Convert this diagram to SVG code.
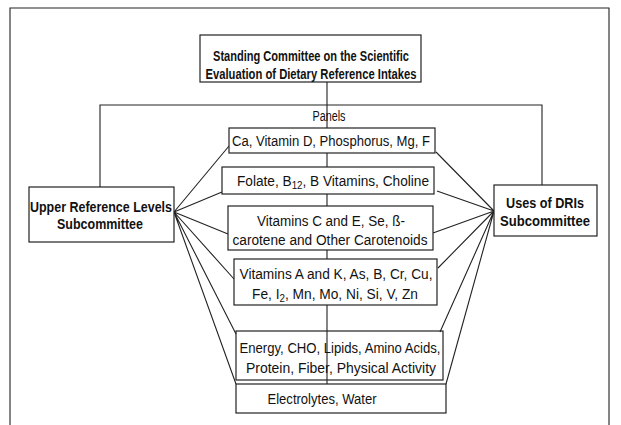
<svg xmlns="http://www.w3.org/2000/svg" width="621" height="425" viewBox="0 0 621 425">
<style>
.box{fill:#fff;stroke:#222;stroke-width:1.2}
.ln{fill:none;stroke:#222;stroke-width:1.1}
text{font-family:"Liberation Sans Narrow","Liberation Sans",Arial,sans-serif;font-size:14px;fill:#111;text-anchor:middle}
.b{font-weight:bold;font-size:15px}
</style>
<rect width="621" height="425" fill="#fff"/>
<g id="frame"><path class="ln" d="M10,425 V8 H609 V425"/></g>
<g id="connectors">
<path class="ln" d="M327,82 V128 M327,153 V167 M327,194 V206 M327,250 V259 M327,305 V384"/>
<path class="ln" d="M100,187 V105 H542 V185"/>
<path class="ln" d="M174,212 L229,146 M174,212 L222,192 M174,212 L228,234 M174,212 L234,279 M174,212 L236,334 M174,212 L236,384"/>
<path class="ln" d="M494,211 L436,152 M494,211 L437,191 M494,211 L433,233 M494,211 L438,268 M494,211 L440,332 M494,211 L446,384"/>
</g>
<g id="top">
<rect class="box" x="200" y="35" width="221" height="47"/>
<text class="b" x="311" y="61" textLength="196" lengthAdjust="spacingAndGlyphs">Standing Committee on the Scientific</text>
<text class="b" x="311" y="79" textLength="211" lengthAdjust="spacingAndGlyphs">Evaluation of Dietary Reference Intakes</text>
</g>
<g id="panels-label"><text x="329" y="121" textLength="33" lengthAdjust="spacingAndGlyphs">Panels</text></g>
<g id="upper">
<rect class="box" x="29" y="187" width="145" height="55"/>
<text class="b" x="101" y="212" textLength="142" lengthAdjust="spacingAndGlyphs">Upper Reference Levels</text>
<text class="b" x="100" y="229" textLength="86" lengthAdjust="spacingAndGlyphs">Subcommittee</text>
</g>
<g id="uses">
<rect class="box" x="494" y="185" width="103" height="51"/>
<text class="b" x="545" y="208" textLength="78" lengthAdjust="spacingAndGlyphs">Uses of DRIs</text>
<text class="b" x="545" y="226" textLength="90" lengthAdjust="spacingAndGlyphs">Subcommittee</text>
</g>
<g id="panel1">
<rect class="box" x="229" y="128" width="206" height="25"/>
<text x="331" y="146" textLength="198" lengthAdjust="spacingAndGlyphs">Ca, Vitamin D, Phosphorus, Mg, F</text>
</g>
<g id="panel2">
<rect class="box" x="222" y="167" width="212" height="27"/>
<text x="333" y="186" textLength="192" lengthAdjust="spacingAndGlyphs">Folate, B<tspan font-size="10" dy="3">12</tspan><tspan dy="-3">, B Vitamins, Choline</tspan></text>
</g>
<g id="panel3">
<rect class="box" x="228" y="206" width="205" height="44"/>
<text x="331" y="226" textLength="148" lengthAdjust="spacingAndGlyphs">Vitamins C and E, Se, ß-</text>
<text x="330" y="245" textLength="195" lengthAdjust="spacingAndGlyphs">carotene and Other Carotenoids</text>
</g>
<g id="panel4">
<rect class="box" x="234" y="259" width="203" height="46"/>
<text x="336" y="279" textLength="193" lengthAdjust="spacingAndGlyphs">Vitamins A and K, As, B, Cr, Cu,</text>
<text x="335" y="299" textLength="166" lengthAdjust="spacingAndGlyphs">Fe, I<tspan font-size="10" dy="3">2</tspan><tspan dy="-3">, Mn, Mo, Ni, Si, V, Zn</tspan></text>
</g>
<g id="panel5">
<rect x="236" y="331" width="207" height="49" fill="none" stroke="#222" stroke-width="1.2"/>
<text x="340" y="353" textLength="201" lengthAdjust="spacingAndGlyphs">Energy, CHO, Lipids, Amino Acids,</text>
<text x="341" y="373" textLength="190" lengthAdjust="spacingAndGlyphs">Protein, Fiber, Physical Activity</text>
</g>
<g id="panel6">
<rect class="box" x="236" y="384" width="210" height="29"/>
<text x="322" y="404" textLength="109" lengthAdjust="spacingAndGlyphs">Electrolytes, Water</text>
</g>
</svg>
